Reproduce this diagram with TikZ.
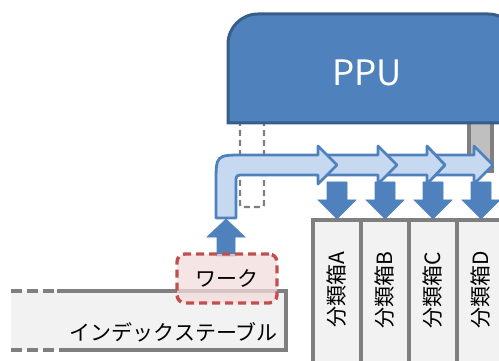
\documentclass[tikz,border=0pt]{standalone}
\usepackage{fontspec}
\setmainfont{Noto Sans CJK JP}
\usetikzlibrary{positioning}
\definecolor{ppublue}{HTML}{4F81BD}
\definecolor{ppuedge}{HTML}{385D8A}
\definecolor{flowblue}{HTML}{C6D9F1}
\definecolor{boxgray}{HTML}{F2F2F2}
\definecolor{bargray}{HTML}{BFBFBF}
\definecolor{edgegray}{HTML}{7F7F7F}
\definecolor{workred}{HTML}{C0504D}
\definecolor{workpink}{HTML}{F2DCDB}

\begin{document}
\begin{tikzpicture}[x=1pt,y=-1pt,
  flow/.style={draw=ppublue,fill=flowblue,line width=2.8pt,line join=round},
  push/.style={fill=ppublue,draw=ppublue,line width=0.6pt},
  graybox/.style={draw=edgegray,fill=boxgray,line width=4pt},
  label/.style={inner sep=0pt,font=\fontsize{21}{21}\selectfont},
  workbox/.style={draw=workred,fill=workpink,fill opacity=0.75,text opacity=1,
    line width=3.4pt,dash pattern=on 8pt off 5pt,rounded corners=8pt,
    minimum width=100pt,minimum height=49pt,inner sep=0pt,
    font=\fontsize{21}{21}\selectfont}]
\useasboundingbox (0,0) rectangle (499,361);
\clip (0,0) rectangle (499,361);

% parts under the PPU
\draw[edgegray,line width=2.2pt,dash pattern=on 6pt off 4pt,rounded corners=2pt]
  (240,118) rectangle (264,207);
\draw[fill=bargray,draw=edgegray,line width=3.5pt] (469,118) rectangle (492,171);

% PPU
\draw[fill=ppublue,draw=ppuedge,line width=3pt]
  (228,123) [rounded corners=30pt] -- (228,14) -- (518,14) [sharp corners] -- (518,123) -- cycle;
\node[text=white,font=\fontsize{35}{35}\selectfont] (ppu) at (367,73) {PPU};

% sort boxes
\foreach \c [count=\i] in {A,B,C,D}{
  \draw[graybox] (265+48*\i,220) rectangle +(48,160);
  \node[label,rotate=90] (sort\c) at (289+48*\i,290) {分類箱\c};
  \draw[push] (279+48*\i,182) -- (299+48*\i,182) -- (299+48*\i,200) -- (308+48*\i,200)
    -- (289+48*\i,219) -- (270+48*\i,200) -- (279+48*\i,200) -- cycle;
}

% flow arrows
\foreach \t/\s/\e in {428/474/493, 380/427/445, 320/378/397}{
  \draw[flow] (\t,155) -- (\s,155) -- (\s,146) -- (\e,165) -- (\s,184) -- (\s,175) -- (\t,175) -- cycle;
}
\draw[flow] (216,218) -- (216,183) .. controls (216,155) .. (244,155) -- (318,155) -- (318,146)
  -- (337,165) -- (318,184) -- (318,175) -- (244,175) .. controls (236,175) .. (236,183)
  -- (236,218) -- cycle;
\draw[push] (217,256) -- (217,237) -- (207,237) -- (226,219) -- (245,237) -- (235,237) -- (235,256) -- cycle;

% index table
\fill[boxgray] (11,291) rectangle (286,350);
\draw[edgegray,line width=3.5pt,dash pattern=on 11pt off 5pt] (11,291)--(56,291) (11,350)--(56,350);
\draw[edgegray,line width=3.5pt] (57,291)--(286,291)--(286,350)--(59,350);
\node[label,anchor=east] (table) at (278,332) {インデックステーブル};

% work
\node[workbox] (work) at (227,278.5) {ワーク};
\end{tikzpicture}
\end{document}
